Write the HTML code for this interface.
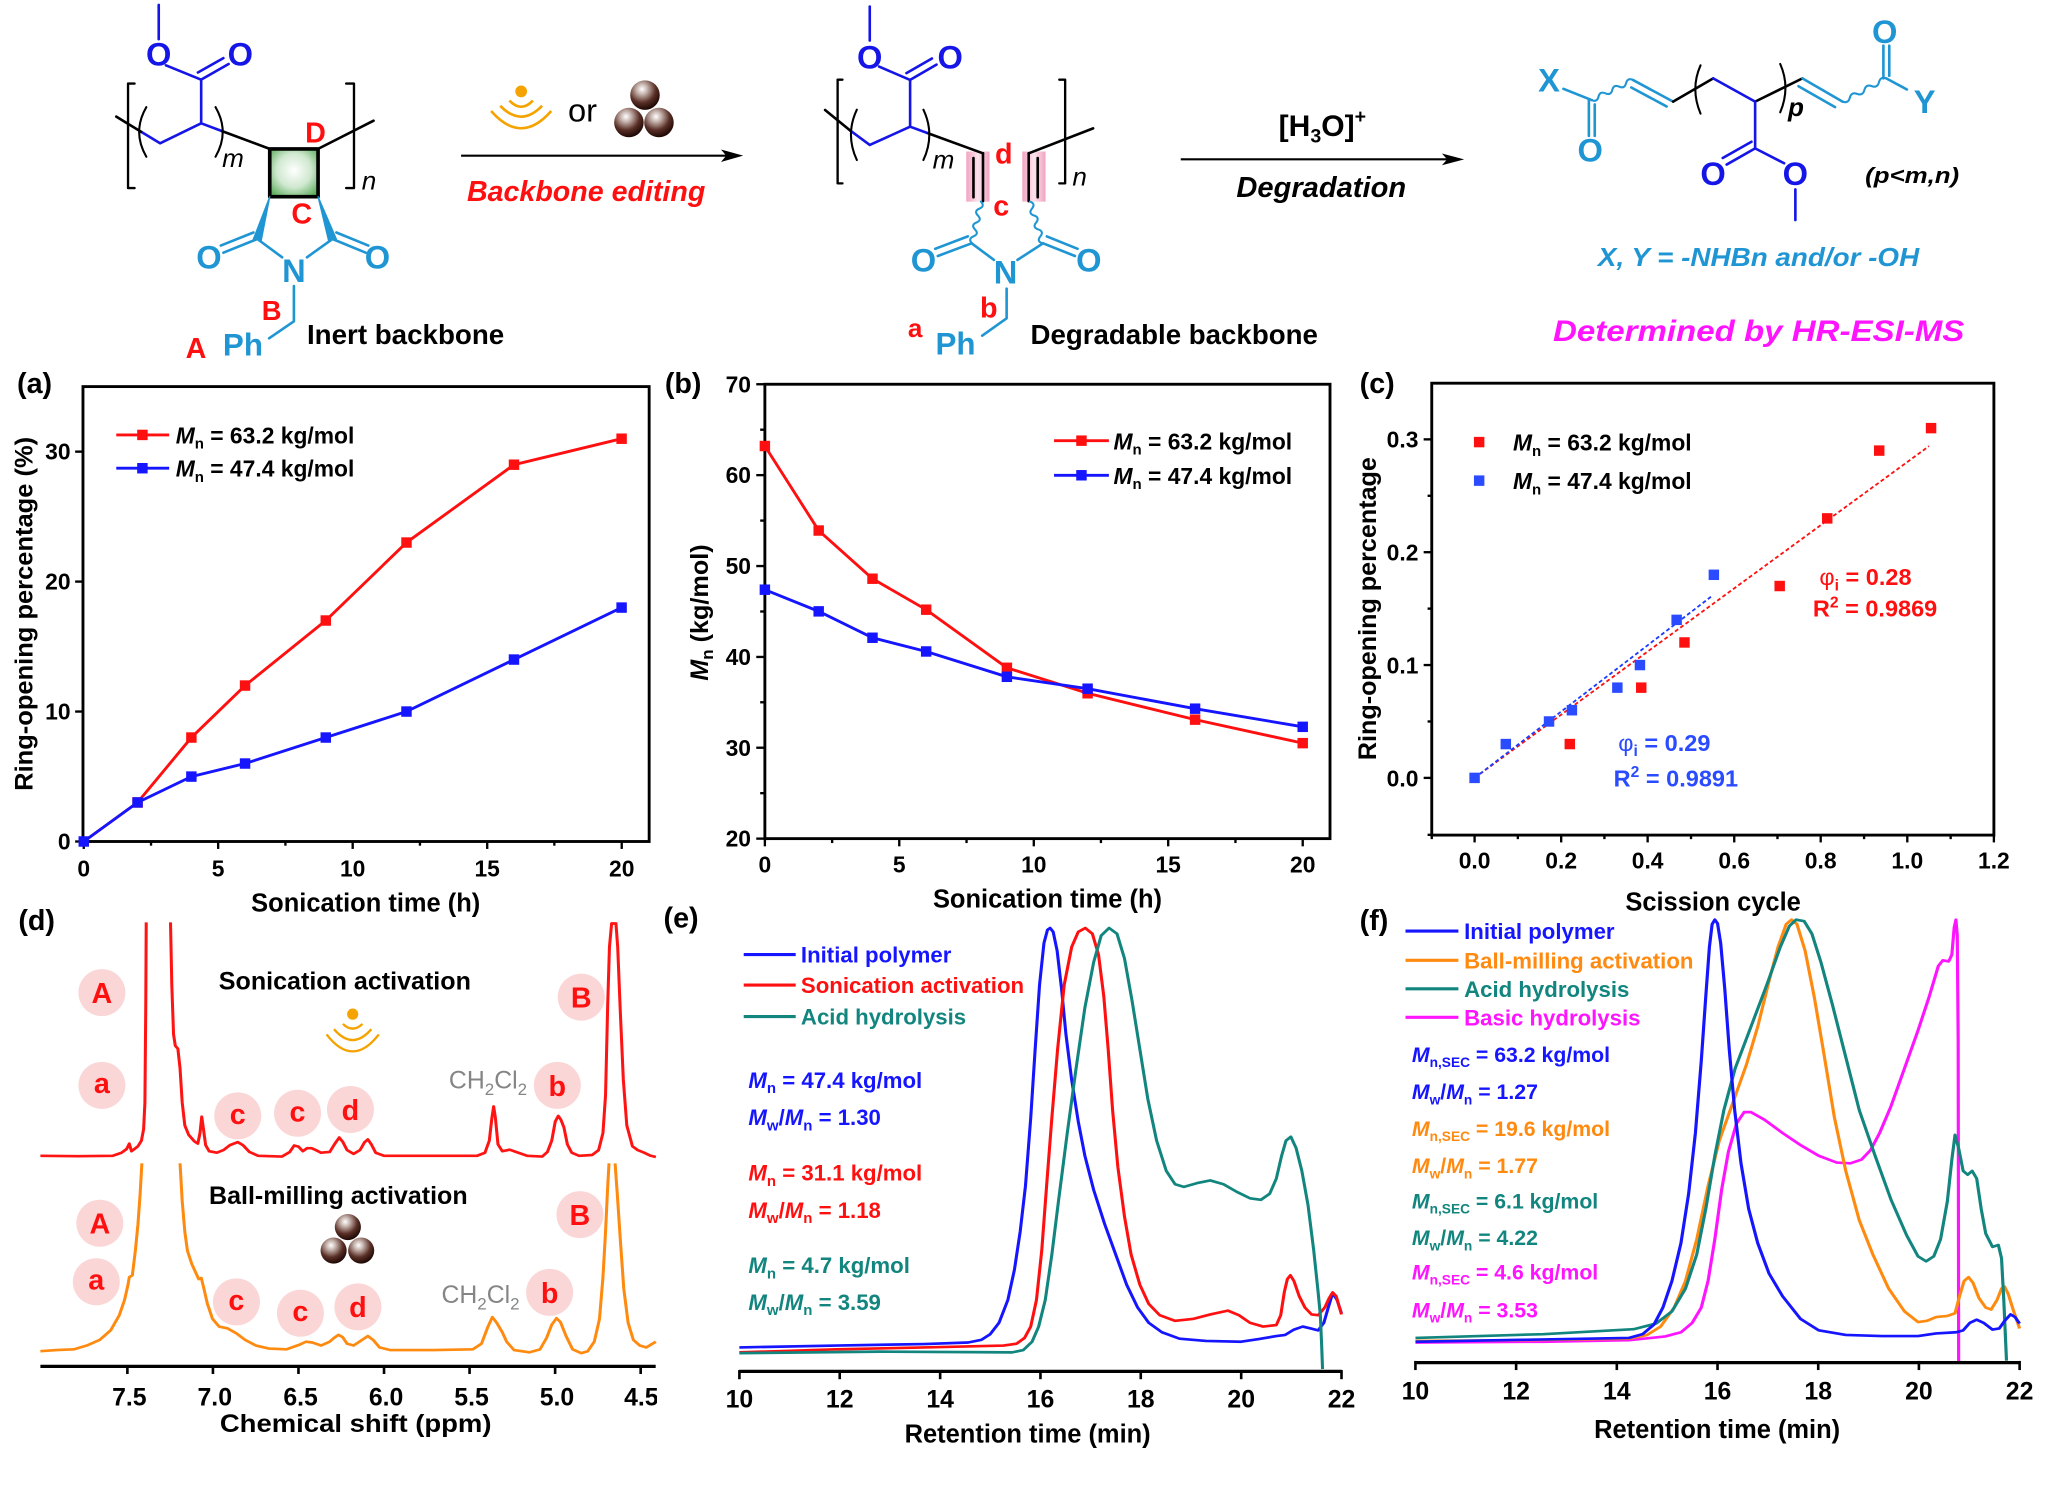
<!DOCTYPE html>
<html><head><meta charset="utf-8"><style>
html,body{margin:0;padding:0;background:#fff}
svg{display:block}
text{font-family:"Liberation Sans",Arial,sans-serif;font-weight:bold}
.nw{font-weight:normal}
</style></head><body>
<svg width="2048" height="1485" viewBox="0 0 1568 1137" xmlns="http://www.w3.org/2000/svg">
<defs>
<radialGradient id="gsq" cx="50%" cy="45%" r="65%"><stop offset="0" stop-color="#ffffff"/><stop offset="0.55" stop-color="#cfe8cf"/><stop offset="1" stop-color="#5fae5f"/></radialGradient>
<radialGradient id="gball" cx="40%" cy="30%" r="70%"><stop offset="0" stop-color="#ffffff"/><stop offset="0.25" stop-color="#c8b6b0"/><stop offset="0.65" stop-color="#5a3027"/><stop offset="1" stop-color="#1e0804"/></radialGradient>
<linearGradient id="gpink" x1="0" y1="0" x2="1" y2="0"><stop offset="0" stop-color="#f2a3c1"/><stop offset="0.5" stop-color="#fbe3ec"/><stop offset="1" stop-color="#f2a3c1"/></linearGradient>
<clipPath id="clipd"><rect x="0" y="690" width="503" height="447"/></clipPath>
</defs>
<rect x="0" y="0" width="1568" height="1137" fill="#fff"/>

<!-- ===================== TOP SCHEME ===================== -->
<g fill="none" stroke-width="2" stroke-linecap="round" stroke-linejoin="round">
 <line x1="121.5" y1="3.8" x2="121.5" y2="30" stroke="#1515e8"/>
 <line x1="127" y1="50" x2="154" y2="61" stroke="#1515e8"/>
 <line x1="154" y1="61" x2="175" y2="49" stroke="#1515e8"/>
 <line x1="151.5" y1="55.5" x2="171" y2="44.5" stroke="#1515e8"/>
 <line x1="154" y1="61" x2="154" y2="94.4" stroke="#1515e8"/>
 <polyline points="108,100.9 122.5,109.7 154,94.4 170,100.4" stroke="#1515e8"/>
 <line x1="89" y1="89.3" x2="108" y2="100.9" stroke="#000"/>
 <line x1="170" y1="100.4" x2="206.5" y2="114" stroke="#000"/>
 <path d="M112,82 Q101,101 112,120" stroke="#000" stroke-width="1.6"/>
 <path d="M165,82 Q176,101 165,120" stroke="#000" stroke-width="1.6"/>
 <path d="M103,64 H98 V144 H103" stroke="#000" stroke-width="1.8"/>
 <path d="M265,64 H271 V144 H265" stroke="#000" stroke-width="1.8"/>
 <line x1="243.5" y1="114" x2="286" y2="92.4" stroke="#000"/>
 <rect x="206.5" y="114" width="37" height="36.6" fill="url(#gsq)" stroke="#000" stroke-width="2.8"/>
 <polygon points="206.5,150.6 194,183 200,184" fill="#1f96d3" stroke="#1f96d3" stroke-width="1"/>
 <polygon points="243.5,150.6 251.5,184 257.5,183" fill="#1f96d3" stroke="#1f96d3" stroke-width="1"/>
 <line x1="197" y1="183" x2="171" y2="193.5" stroke="#1f96d3"/>
 <line x1="194" y1="178" x2="169" y2="188" stroke="#1f96d3"/>
 <line x1="254.5" y1="183" x2="280" y2="193.5" stroke="#1f96d3"/>
 <line x1="257.5" y1="178" x2="282" y2="188" stroke="#1f96d3"/>
 <line x1="197" y1="183" x2="216" y2="197" stroke="#1f96d3"/>
 <line x1="254.5" y1="183" x2="235" y2="197" stroke="#1f96d3"/>
 <polyline points="225,219 225,246 206,259" stroke="#1f96d3"/>
</g>
<g text-anchor="middle">
 <text x="121.5" y="50" font-size="25" fill="#1515e8">O</text>
 <text x="184" y="50" font-size="25" fill="#1515e8">O</text>
 <text x="241.5" y="109" font-size="22" fill="#ff1010">D</text>
 <text x="231" y="171" font-size="22" fill="#ff1010">C</text>
 <text x="160" y="205.5" font-size="25" fill="#1f96d3">O</text>
 <text x="289" y="205.5" font-size="25" fill="#1f96d3">O</text>
 <text x="225" y="216" font-size="25" fill="#1f96d3">N</text>
 <text x="186" y="272" font-size="24" fill="#1f96d3">Ph</text>
 <text x="150" y="274" font-size="22" fill="#ff1010">A</text>
 <text x="208" y="245" font-size="21" fill="#ff1010">B</text>
</g>
<text x="170" y="128" font-size="20" font-style="italic" class="nw">m</text>
<text x="277" y="145" font-size="20" font-style="italic" class="nw">n</text>
<text x="235" y="263.5" font-size="21" textLength="151" lengthAdjust="spacingAndGlyphs">Inert backbone</text>

<circle cx="399" cy="70" r="4.5" fill="#f5a300"/>
<g fill="none" stroke="#f5a300" stroke-width="2">
 <path d="M390,77 Q399,86.5 408,77"/>
 <path d="M383,81 Q399,97.6 415,81"/>
 <path d="M376,85 Q399,111.4 422,85"/>
</g>
<text x="446" y="93" font-size="25" text-anchor="middle" class="nw">or</text>
<circle cx="493.8" cy="72.8" r="11.3" fill="url(#gball)"/>
<circle cx="481.5" cy="93.8" r="11.3" fill="url(#gball)"/>
<circle cx="504.5" cy="93.8" r="11.3" fill="url(#gball)"/>
<line x1="353" y1="119.2" x2="556" y2="119.2" stroke="#000" stroke-width="1.6"/>
<polygon points="569,119.2 552,114.5 556,119.2 552,124" fill="#000"/>
<text x="357.5" y="154" font-size="22" font-style="italic" fill="#ff1010" textLength="182.5" lengthAdjust="spacingAndGlyphs">Backbone editing</text>

<rect x="739.8" y="116" width="17.8" height="38.4" fill="url(#gpink)"/>
<rect x="782.7" y="116" width="17.8" height="38.4" fill="url(#gpink)"/>
<g fill="none" stroke-width="2" stroke-linecap="round" stroke-linejoin="round">
 <line x1="665.9" y1="5" x2="665.9" y2="31" stroke="#1515e8"/>
 <line x1="673" y1="51" x2="696.8" y2="61.2" stroke="#1515e8"/>
 <line x1="696.8" y1="61.2" x2="717" y2="49.5" stroke="#1515e8"/>
 <line x1="694" y1="56" x2="713.5" y2="44.8" stroke="#1515e8"/>
 <line x1="696.8" y1="61.2" x2="696.8" y2="97" stroke="#1515e8"/>
 <polyline points="651,100 665.9,111 696.8,97 711,102.2" stroke="#1515e8"/>
 <line x1="631.7" y1="84.2" x2="651" y2="100" stroke="#000"/>
 <line x1="711" y1="102.2" x2="752.6" y2="117.4" stroke="#000"/>
 <path d="M656,84 Q647,103 656,122.5" stroke="#000" stroke-width="1.6"/>
 <path d="M707,84 Q716,103 707,122.5" stroke="#000" stroke-width="1.6"/>
 <path d="M645,61 H641.3 V140.4 H645" stroke="#000" stroke-width="1.8"/>
 <path d="M811,61 H815.5 V140.4 H811" stroke="#000" stroke-width="1.8"/>
 <line x1="745.3" y1="121" x2="745.3" y2="151" stroke="#000"/>
 <line x1="752.6" y1="117.4" x2="752.6" y2="154" stroke="#000"/>
 <line x1="787.6" y1="117.4" x2="787.6" y2="154" stroke="#000"/>
 <line x1="794.5" y1="121" x2="794.5" y2="151" stroke="#000"/>
 <line x1="787.6" y1="117.4" x2="836.9" y2="98.3" stroke="#000"/>
 <path d="M751,154.4 q3.33,3.49 -1.133,5.317 q-4.47,1.83 -1.133,5.317 q3.33,3.49 -1.133,5.317 q-4.47,1.83 -1.133,5.317 q3.33,3.49 -1.133,5.317 q-4.47,1.83 -1.133,5.317" stroke="#1f96d3" stroke-width="1.6"/>
 <path d="M788.5,154.4 q4.63,1.51 1.6,5.317 q-3.03,3.81 1.6,5.317 q4.63,1.51 1.6,5.317 q-3.03,3.81 1.6,5.317 q4.63,1.51 1.6,5.317 q-3.03,3.81 1.6,5.317" stroke="#1f96d3" stroke-width="1.6"/>
 <line x1="743.9" y1="186.3" x2="718" y2="196" stroke="#1f96d3"/>
 <line x1="741" y1="181" x2="716" y2="190.5" stroke="#1f96d3"/>
 <line x1="798.6" y1="186.3" x2="823" y2="196" stroke="#1f96d3"/>
 <line x1="801.5" y1="181" x2="825" y2="190.5" stroke="#1f96d3"/>
 <line x1="743.9" y1="186.3" x2="761" y2="199" stroke="#1f96d3"/>
 <line x1="798.6" y1="186.3" x2="779" y2="199" stroke="#1f96d3"/>
 <polyline points="770.7,221 770.7,243.7 752,257" stroke="#1f96d3"/>
</g>
<g text-anchor="middle">
 <text x="665.9" y="52.5" font-size="25" fill="#1515e8">O</text>
 <text x="727.5" y="52.5" font-size="25" fill="#1515e8">O</text>
 <text x="768.5" y="125" font-size="22" fill="#ff1010">d</text>
 <text x="766.6" y="165" font-size="22" fill="#ff1010">c</text>
 <text x="707" y="208" font-size="25" fill="#1f96d3">O</text>
 <text x="833.6" y="208" font-size="25" fill="#1f96d3">O</text>
 <text x="769.9" y="217" font-size="25" fill="#1f96d3">N</text>
 <text x="757" y="243" font-size="22" fill="#ff1010">b</text>
 <text x="700.7" y="258" font-size="20" fill="#ff1010">a</text>
 <text x="731.6" y="271.5" font-size="24" fill="#1f96d3">Ph</text>
</g>
<text x="714" y="129" font-size="20" font-style="italic" class="nw">m</text>
<text x="821" y="142" font-size="20" font-style="italic" class="nw">n</text>
<text x="789" y="263.5" font-size="21" textLength="220" lengthAdjust="spacingAndGlyphs">Degradable backbone</text>

<line x1="904" y1="122" x2="1108" y2="122" stroke="#000" stroke-width="1.6"/>
<polygon points="1121,122 1104,117.5 1108,122 1104,126.5" fill="#000"/>
<text x="979" y="104" font-size="23">[H<tspan font-size="15" dy="5">3</tspan><tspan dy="-5">O]</tspan><tspan font-size="15" dy="-10">+</tspan></text>
<text x="946.6" y="151" font-size="22" font-style="italic" textLength="130" lengthAdjust="spacingAndGlyphs">Degradation</text>

<g fill="none" stroke-width="2" stroke-linecap="round" stroke-linejoin="round">
 <line x1="1197" y1="68" x2="1218.6" y2="76.6" stroke="#1f96d3"/>
 <line x1="1216.5" y1="77" x2="1216.5" y2="104" stroke="#1f96d3"/>
 <line x1="1221" y1="80" x2="1221" y2="104" stroke="#1f96d3"/>
 <path d="M1218.6,76.6 q4.16,1.87 5.27,-2.57 q1.1,-4.43 5.27,-2.57 q4.16,1.87 5.27,-2.57 q1.1,-4.43 5.27,-2.57 q4.16,1.87 5.27,-2.57 q1.1,-4.43 5.27,-2.57" stroke="#1f96d3" stroke-width="1.6"/>
 <line x1="1250.2" y1="61.2" x2="1281" y2="77.8" stroke="#1f96d3"/>
 <line x1="1249" y1="67" x2="1276" y2="81.5" stroke="#1f96d3"/>
 <line x1="1281" y1="77.8" x2="1311.7" y2="60" stroke="#000"/>
 <line x1="1311.7" y1="60" x2="1343.8" y2="77.8" stroke="#1515e8"/>
 <line x1="1343.8" y1="77.8" x2="1380" y2="60" stroke="#000"/>
 <path d="M1302,50 Q1294,68 1302,87" stroke="#000" stroke-width="1.6"/>
 <path d="M1363,49 Q1371,67 1363,86" stroke="#000" stroke-width="1.6"/>
 <line x1="1380" y1="60" x2="1410.7" y2="77.8" stroke="#1f96d3"/>
 <line x1="1377" y1="66" x2="1405" y2="82" stroke="#1f96d3"/>
 <path d="M1410.7,77.8 q4.44,1.61 5.58,-2.97 q1.14,-4.57 5.58,-2.97 q4.44,1.61 5.58,-2.97 q1.14,-4.57 5.58,-2.97 q4.44,1.61 5.58,-2.97 q1.14,-4.57 5.58,-2.97" stroke="#1f96d3" stroke-width="1.6"/>
 <line x1="1442" y1="60" x2="1442" y2="35" stroke="#1f96d3"/>
 <line x1="1446.5" y1="58" x2="1446.5" y2="35" stroke="#1f96d3"/>
 <line x1="1444.2" y1="60" x2="1460" y2="68.5" stroke="#1f96d3"/>
 <line x1="1343.8" y1="77.8" x2="1343.8" y2="113.6" stroke="#1515e8"/>
 <line x1="1343.8" y1="113.6" x2="1322" y2="126" stroke="#1515e8"/>
 <line x1="1341" y1="108.5" x2="1319" y2="121" stroke="#1515e8"/>
 <line x1="1343.8" y1="113.6" x2="1366" y2="125" stroke="#1515e8"/>
 <line x1="1374.6" y1="145" x2="1374.6" y2="168.4" stroke="#1515e8"/>
</g>
<g text-anchor="middle">
 <text x="1186" y="70" font-size="25" fill="#1f96d3">X</text>
 <text x="1217.5" y="123.5" font-size="25" fill="#1f96d3">O</text>
 <text x="1443" y="33" font-size="25" fill="#1f96d3">O</text>
 <text x="1473.6" y="86.5" font-size="25" fill="#1f96d3">Y</text>
 <text x="1311.6" y="141.5" font-size="25" fill="#1515e8">O</text>
 <text x="1374.6" y="141.5" font-size="25" fill="#1515e8">O</text>
</g>
<text x="1369" y="89" font-size="20" font-style="italic">p</text>
<text x="1428" y="140" font-size="17" font-style="italic" textLength="72" lengthAdjust="spacingAndGlyphs">(p&lt;m,n)</text>
<text x="1223.4" y="203.5" font-size="20" font-style="italic" fill="#1f96d3" textLength="246" lengthAdjust="spacingAndGlyphs">X, Y = -NHBn and/or -OH</text>
<text x="1189" y="261" font-size="23" font-style="italic" fill="#ff14ff" textLength="315" lengthAdjust="spacingAndGlyphs">Determined by HR-ESI-MS</text>

<!-- ===================== PANEL A ===================== -->
<text x="13" y="301" font-size="22">(a)</text>
<rect x="63.5" y="296" width="433.5" height="348.3" fill="none" stroke="#000" stroke-width="2.2"/>
<g stroke="#000" stroke-width="1.8">
 <line x1="64.1" y1="644" x2="64.1" y2="650"/><line x1="167" y1="644" x2="167" y2="650"/><line x1="270" y1="644" x2="270" y2="650"/><line x1="373" y1="644" x2="373" y2="650"/><line x1="476" y1="644" x2="476" y2="650"/>
 <line x1="115.6" y1="644" x2="115.6" y2="647.5"/><line x1="218.5" y1="644" x2="218.5" y2="647.5"/><line x1="321.5" y1="644" x2="321.5" y2="647.5"/><line x1="424.4" y1="644" x2="424.4" y2="647.5"/>
 <line x1="57.5" y1="644.3" x2="63.5" y2="644.3"/><line x1="57.5" y1="544.8" x2="63.5" y2="544.8"/><line x1="57.5" y1="445.3" x2="63.5" y2="445.3"/><line x1="57.5" y1="345.8" x2="63.5" y2="345.8"/>
</g>
<g font-size="17.5" text-anchor="middle">
 <text x="64.1" y="671">0</text><text x="167" y="671">5</text><text x="270" y="671">10</text><text x="373" y="671">15</text><text x="476" y="671">20</text>
</g>
<g font-size="17.5" text-anchor="end">
 <text x="54" y="650.5">0</text><text x="54" y="551">10</text><text x="54" y="451.5">20</text><text x="54" y="352">30</text>
</g>
<text x="280" y="698" font-size="19.5" text-anchor="middle">Sonication time (h)</text>
<text transform="translate(25,470) rotate(-90)" font-size="19.3" text-anchor="middle" textLength="271" lengthAdjust="spacingAndGlyphs">Ring-opening percentage (%)</text>
<polyline points="64.1,644.3 105.3,614.4 146.5,564.7 187.6,524.9 249.4,475.1 311.2,415.4 393.5,355.8 475.9,335.9" fill="none" stroke="#ff1010" stroke-width="2.2"/>
<g fill="#ff1010"><rect x="101.3" y="610.4" width="8" height="8"/><rect x="142.5" y="560.7" width="8" height="8"/><rect x="183.6" y="520.9" width="8" height="8"/><rect x="245.4" y="471.1" width="8" height="8"/><rect x="307.2" y="411.4" width="8" height="8"/><rect x="389.5" y="351.8" width="8" height="8"/><rect x="471.9" y="331.9" width="8" height="8"/></g>
<polyline points="64.1,644.3 105.3,614.4 146.5,594.6 187.6,584.6 249.4,564.7 311.2,544.8 393.5,505 475.9,465.2" fill="none" stroke="#1515ff" stroke-width="2.2"/>
<g fill="#1515ff"><rect x="60.1" y="640.3" width="8" height="8"/><rect x="101.3" y="610.4" width="8" height="8"/><rect x="142.5" y="590.6" width="8" height="8"/><rect x="183.6" y="580.6" width="8" height="8"/><rect x="245.4" y="560.7" width="8" height="8"/><rect x="307.2" y="540.8" width="8" height="8"/><rect x="389.5" y="501" width="8" height="8"/><rect x="471.9" y="461.2" width="8" height="8"/></g>
<line x1="89" y1="333" x2="129.5" y2="333" stroke="#ff1010" stroke-width="2.2"/><rect x="105" y="329" width="8" height="8" fill="#ff1010"/>
<line x1="89" y1="358.5" x2="129.5" y2="358.5" stroke="#1515ff" stroke-width="2.2"/><rect x="105" y="354.5" width="8" height="8" fill="#1515ff"/>
<text x="134.5" y="339.5" font-size="17.5"><tspan font-style="italic">M</tspan><tspan font-size="11.5" dy="4">n</tspan><tspan dy="-4"> = 63.2 kg/mol</tspan></text>
<text x="134.5" y="365" font-size="17.5"><tspan font-style="italic">M</tspan><tspan font-size="11.5" dy="4">n</tspan><tspan dy="-4"> = 47.4 kg/mol</tspan></text>

<!-- ===================== PANEL B ===================== -->
<text x="509" y="301" font-size="22">(b)</text>
<rect x="585.6" y="294.2" width="432.7" height="347.9" fill="none" stroke="#000" stroke-width="2.2"/>
<g stroke="#000" stroke-width="1.8">
 <line x1="585.6" y1="642" x2="585.6" y2="648"/><line x1="688.5" y1="642" x2="688.5" y2="648"/><line x1="791.5" y1="642" x2="791.5" y2="648"/><line x1="894.4" y1="642" x2="894.4" y2="648"/><line x1="997.4" y1="642" x2="997.4" y2="648"/>
 <line x1="637.1" y1="642" x2="637.1" y2="645.5"/><line x1="740" y1="642" x2="740" y2="645.5"/><line x1="842.9" y1="642" x2="842.9" y2="645.5"/><line x1="945.9" y1="642" x2="945.9" y2="645.5"/>
 <line x1="579" y1="642.1" x2="585.6" y2="642.1"/><line x1="579" y1="572.5" x2="585.6" y2="572.5"/><line x1="579" y1="503" x2="585.6" y2="503"/><line x1="579" y1="433.4" x2="585.6" y2="433.4"/><line x1="579" y1="363.8" x2="585.6" y2="363.8"/><line x1="579" y1="294.2" x2="585.6" y2="294.2"/>
 <line x1="582" y1="607.3" x2="585.6" y2="607.3"/><line x1="582" y1="537.7" x2="585.6" y2="537.7"/><line x1="582" y1="468.2" x2="585.6" y2="468.2"/><line x1="582" y1="398.6" x2="585.6" y2="398.6"/><line x1="582" y1="329" x2="585.6" y2="329"/>
</g>
<g font-size="17.5" text-anchor="middle">
 <text x="585.6" y="668">0</text><text x="688.5" y="668">5</text><text x="791.5" y="668">10</text><text x="894.4" y="668">15</text><text x="997.4" y="668">20</text>
</g>
<g font-size="17.5" text-anchor="end">
 <text x="575" y="648.3">20</text><text x="575" y="578.7">30</text><text x="575" y="509.2">40</text><text x="575" y="439.6">50</text><text x="575" y="370">60</text><text x="575" y="300.4">70</text>
</g>
<text x="802" y="695" font-size="19.5" text-anchor="middle">Sonication time (h)</text>
<text transform="translate(542,469) rotate(-90)" font-size="19.3" text-anchor="middle"><tspan font-style="italic">M</tspan><tspan font-size="13" dy="4">n</tspan><tspan dy="-4"> (kg/mol)</tspan></text>
<polyline points="585.6,341.5 626.8,406.2 668,443.1 709.1,466.8 770.9,511.3 832.7,530.8 915,551 997.4,569" fill="none" stroke="#ff1010" stroke-width="2.2"/>
<g fill="#ff1010"><rect x="581.6" y="337.5" width="8" height="8"/><rect x="622.8" y="402.2" width="8" height="8"/><rect x="664" y="439.1" width="8" height="8"/><rect x="705.1" y="462.8" width="8" height="8"/><rect x="766.9" y="507.3" width="8" height="8"/><rect x="828.7" y="526.8" width="8" height="8"/><rect x="911" y="547" width="8" height="8"/><rect x="993.4" y="565" width="8" height="8"/></g>
<polyline points="585.6,451.5 626.8,468.1 668,488.3 709.1,498.8 770.9,518.2 832.7,527.3 915,542.6 997.4,556.5" fill="none" stroke="#1515ff" stroke-width="2.2"/>
<g fill="#1515ff"><rect x="581.6" y="447.5" width="8" height="8"/><rect x="622.8" y="464.1" width="8" height="8"/><rect x="664" y="484.3" width="8" height="8"/><rect x="705.1" y="494.8" width="8" height="8"/><rect x="766.9" y="514.2" width="8" height="8"/><rect x="828.7" y="523.3" width="8" height="8"/><rect x="911" y="538.6" width="8" height="8"/><rect x="993.4" y="552.5" width="8" height="8"/></g>
<line x1="807" y1="337.4" x2="849" y2="337.4" stroke="#ff1010" stroke-width="2.2"/><rect x="824" y="333.4" width="8" height="8" fill="#ff1010"/>
<line x1="807" y1="363.9" x2="849" y2="363.9" stroke="#1515ff" stroke-width="2.2"/><rect x="824" y="359.9" width="8" height="8" fill="#1515ff"/>
<text x="852.5" y="344" font-size="17.5"><tspan font-style="italic">M</tspan><tspan font-size="11.5" dy="4">n</tspan><tspan dy="-4"> = 63.2 kg/mol</tspan></text>
<text x="852.5" y="370.5" font-size="17.5"><tspan font-style="italic">M</tspan><tspan font-size="11.5" dy="4">n</tspan><tspan dy="-4"> = 47.4 kg/mol</tspan></text>

<!-- ===================== PANEL C ===================== -->
<text x="1041" y="301" font-size="22">(c)</text>
<rect x="1096.2" y="293.4" width="430.4" height="346" fill="none" stroke="#000" stroke-width="2.2"/>
<g stroke="#000" stroke-width="1.8">
 <line x1="1129" y1="639" x2="1129" y2="645"/><line x1="1195.3" y1="639" x2="1195.3" y2="645"/><line x1="1261.5" y1="639" x2="1261.5" y2="645"/><line x1="1327.8" y1="639" x2="1327.8" y2="645"/><line x1="1394" y1="639" x2="1394" y2="645"/><line x1="1460.3" y1="639" x2="1460.3" y2="645"/><line x1="1526.6" y1="639" x2="1526.6" y2="645"/>
 <line x1="1096.2" y1="639" x2="1096.2" y2="642.5"/><line x1="1162.1" y1="639" x2="1162.1" y2="642.5"/><line x1="1228.4" y1="639" x2="1228.4" y2="642.5"/><line x1="1294.7" y1="639" x2="1294.7" y2="642.5"/><line x1="1360.9" y1="639" x2="1360.9" y2="642.5"/><line x1="1427.2" y1="639" x2="1427.2" y2="642.5"/><line x1="1493.5" y1="639" x2="1493.5" y2="642.5"/>
 <line x1="1090" y1="595.6" x2="1096.2" y2="595.6"/><line x1="1090" y1="509.2" x2="1096.2" y2="509.2"/><line x1="1090" y1="422.8" x2="1096.2" y2="422.8"/><line x1="1090" y1="336.4" x2="1096.2" y2="336.4"/>
 <line x1="1093" y1="552.4" x2="1096.2" y2="552.4"/><line x1="1093" y1="466" x2="1096.2" y2="466"/><line x1="1093" y1="379.6" x2="1096.2" y2="379.6"/><line x1="1093" y1="639.2" x2="1096.2" y2="639.2"/>
</g>
<g font-size="17.5" text-anchor="middle">
 <text x="1129" y="665">0.0</text><text x="1195.3" y="665">0.2</text><text x="1261.5" y="665">0.4</text><text x="1327.8" y="665">0.6</text><text x="1394" y="665">0.8</text><text x="1460.3" y="665">1.0</text><text x="1526.6" y="665">1.2</text>
</g>
<g font-size="17.5" text-anchor="end">
 <text x="1086" y="602">0.0</text><text x="1086" y="515.6">0.1</text><text x="1086" y="429.2">0.2</text><text x="1086" y="342.8">0.3</text>
</g>
<text x="1311.6" y="697" font-size="19.5" text-anchor="middle">Scission cycle</text>
<text transform="translate(1053.5,466) rotate(-90)" font-size="19.3" text-anchor="middle" textLength="232" lengthAdjust="spacingAndGlyphs">Ring-opening percentage</text>
<line x1="1129" y1="595.6" x2="1476.9" y2="341.6" stroke="#ff1010" stroke-width="1.4" stroke-dasharray="3,2"/>
<line x1="1129" y1="595.6" x2="1310.5" y2="456.5" stroke="#1a3cff" stroke-width="1.4" stroke-dasharray="3,2"/>
<g fill="#ff1010"><rect x="1197.9" y="565.7" width="8" height="8"/><rect x="1252.6" y="522.5" width="8" height="8"/><rect x="1285.7" y="487.9" width="8" height="8"/><rect x="1358.6" y="444.7" width="8" height="8"/><rect x="1395" y="392.9" width="8" height="8"/><rect x="1434.8" y="341" width="8" height="8"/><rect x="1474.5" y="323.8" width="8" height="8"/></g>
<g fill="#2a4bff"><rect x="1125" y="591.6" width="8" height="8"/><rect x="1148.9" y="565.7" width="8" height="8"/><rect x="1182" y="548.4" width="8" height="8"/><rect x="1199.5" y="539.8" width="8" height="8"/><rect x="1234.3" y="522.5" width="8" height="8"/><rect x="1251.6" y="505.2" width="8" height="8"/><rect x="1279.7" y="470.6" width="8" height="8"/><rect x="1308.2" y="436.1" width="8" height="8"/></g>
<rect x="1128.5" y="334.5" width="8" height="8" fill="#ff1010"/>
<rect x="1128.5" y="364" width="8" height="8" fill="#2a4bff"/>
<text x="1158.4" y="345" font-size="17.5"><tspan font-style="italic">M</tspan><tspan font-size="11.5" dy="4">n</tspan><tspan dy="-4"> = 63.2 kg/mol</tspan></text>
<text x="1158.4" y="374.5" font-size="17.5"><tspan font-style="italic">M</tspan><tspan font-size="11.5" dy="4">n</tspan><tspan dy="-4"> = 47.4 kg/mol</tspan></text>
<text x="1393" y="448" font-size="18" fill="#ff1010"><tspan class="nw">φ</tspan><tspan font-size="12" dy="4">i</tspan><tspan dy="-4"> = 0.28</tspan></text>
<text x="1388" y="472" font-size="18" fill="#ff1010">R<tspan font-size="12" dy="-7">2</tspan><tspan dy="7"> = 0.9869</tspan></text>
<text x="1239" y="575" font-size="18" fill="#2a4bff"><tspan class="nw">φ</tspan><tspan font-size="12" dy="4">i</tspan><tspan dy="-4"> = 0.29</tspan></text>
<text x="1235.5" y="602" font-size="18" fill="#2a4bff">R<tspan font-size="12" dy="-7">2</tspan><tspan dy="7"> = 0.9891</tspan></text>

<!-- ===================== PANEL D ===================== -->
<text x="14" y="712" font-size="22">(d)</text>
<g fill="#fbd6d6">
 <circle cx="78" cy="760" r="18"/><circle cx="78" cy="831" r="18"/><circle cx="182" cy="854.4" r="18"/><circle cx="227.8" cy="852.4" r="18"/><circle cx="268.3" cy="849.5" r="18"/><circle cx="426.7" cy="831" r="18"/><circle cx="445" cy="763.5" r="18"/>
 <circle cx="76.4" cy="936.6" r="18"/><circle cx="73.7" cy="981.4" r="18"/><circle cx="181" cy="996.8" r="18"/><circle cx="230" cy="1005.5" r="18"/><circle cx="274" cy="1000.6" r="18"/><circle cx="420.8" cy="989.5" r="18"/><circle cx="444" cy="930" r="18"/>
</g>
<g clip-path="url(#clipd)">
<g transform="translate(0,681.5) scale(0.3321,0.2906)" fill="none" stroke-linejoin="round" stroke-width="7">
<path stroke="#ff1414" d="M93,700 L180,701 L260,700 L280,692 L292,682 L298,668 L303,688 L310,682 L318,675 L326,660 L331,630 L334,560 L336,300 L337,85 M393,85 L396,250 L400,380 L404,410 L410,418 L415,470 L420,560 L426,620 L435,645 L448,662 L456,668 L461,640 L465,597 L469,630 L474,672 L482,688 L500,692 L515,685 L530,672 L548,664 L560,672 L575,690 L595,700 L650,702 L668,690 L678,673 L688,676 L698,688 L708,680 L718,680 L728,685 L740,692 L760,690 L772,668 L782,652 L790,663 L800,685 L815,695 L830,685 L840,665 L848,657 L856,670 L866,692 L885,700 L1000,700 L1100,700 L1118,692 L1128,660 L1134,600 L1138,570 L1142,600 L1148,670 L1158,688 L1175,684 L1190,690 L1215,700 L1250,702 L1262,690 L1272,660 L1280,610 L1287,595 L1293,605 L1300,625 L1308,670 L1318,692 L1335,700 L1365,698 L1380,685 L1390,640 L1396,540 L1401,300 L1405,150 L1410,88 L1420,88 L1424,150 L1430,320 L1437,500 L1445,620 L1458,675 L1470,685 L1485,692 L1500,700 L1512,703"/>
<path stroke="#ff8a10" d="M93,1215 L130,1212 L170,1210 L200,1200 L230,1185 L255,1160 L275,1120 L287,1080 L295,1040 L298,1020 L305,1015 L312,950 L318,880 L323,800 L327,720 M415,720 L420,820 L426,900 L432,950 L442,985 L452,1010 L458,1025 L464,1022 L470,1050 L478,1090 L490,1130 L505,1150 L525,1155 L545,1168 L565,1185 L590,1200 L620,1208 L660,1210 L690,1198 L705,1190 L720,1192 L740,1200 L760,1190 L770,1180 L780,1172 L790,1178 L800,1195 L815,1200 L835,1185 L848,1175 L860,1185 L875,1205 L900,1212 L1000,1212 L1090,1210 L1110,1195 L1125,1150 L1135,1125 L1145,1140 L1158,1165 L1168,1190 L1185,1212 L1220,1218 L1245,1210 L1260,1180 L1272,1145 L1283,1128 L1292,1138 L1305,1175 L1320,1210 L1340,1220 L1355,1215 L1370,1190 L1382,1130 L1390,1020 L1396,900 L1401,780 L1404,720 M1418,720 L1423,800 L1430,920 L1438,1050 L1448,1140 L1460,1185 L1475,1200 L1490,1205 L1500,1198 L1512,1190"/>
</g>
<line x1="30.9" y1="1046.2" x2="502" y2="1046.2" stroke="#000" stroke-width="2.5"/>
<g stroke="#000" stroke-width="2">
 <line x1="97.5" y1="1046" x2="97.5" y2="1052"/><line x1="163" y1="1046" x2="163" y2="1052"/><line x1="228.5" y1="1046" x2="228.5" y2="1052"/><line x1="294" y1="1046" x2="294" y2="1052"/><line x1="359.5" y1="1046" x2="359.5" y2="1052"/><line x1="425" y1="1046" x2="425" y2="1052"/><line x1="490.5" y1="1046" x2="490.5" y2="1052"/>
</g>
<g font-size="19" text-anchor="middle">
 <text x="99" y="1076">7.5</text><text x="164.4" y="1076">7.0</text><text x="230.1" y="1076">6.5</text><text x="295.6" y="1076">6.0</text><text x="361" y="1076">5.5</text><text x="426.4" y="1076">5.0</text><text x="491" y="1076">4.5</text>
</g>
</g>
<text x="272.3" y="1096.5" font-size="19" text-anchor="middle" textLength="208" lengthAdjust="spacingAndGlyphs">Chemical shift (ppm)</text>
<g font-size="22" fill="#ff1010" text-anchor="middle">
 <text x="78" y="768">A</text><text x="78" y="837">a</text><text x="182" y="860.5">c</text><text x="227.8" y="858.5">c</text><text x="268.3" y="857.5">d</text><text x="426.7" y="839">b</text><text x="445" y="771.5">B</text>
 <text x="76.4" y="944.5">A</text><text x="73.7" y="987.5">a</text><text x="181" y="1003">c</text><text x="230" y="1011.5">c</text><text x="274" y="1008.5">d</text><text x="420.8" y="997.5">b</text><text x="444" y="938">B</text>
</g>
<text x="343.7" y="833.5" font-size="19" fill="#858585" class="nw">CH<tspan font-size="13" dy="5">2</tspan><tspan dy="-5">Cl</tspan><tspan font-size="13" dy="5">2</tspan></text>
<text x="338" y="997.5" font-size="19" fill="#858585" class="nw">CH<tspan font-size="13" dy="5">2</tspan><tspan dy="-5">Cl</tspan><tspan font-size="13" dy="5">2</tspan></text>
<text x="264" y="757.5" font-size="19" text-anchor="middle" textLength="193" lengthAdjust="spacingAndGlyphs">Sonication activation</text>
<text x="259" y="922" font-size="19" text-anchor="middle" textLength="198" lengthAdjust="spacingAndGlyphs">Ball-milling activation</text>
<circle cx="270" cy="776.5" r="4.3" fill="#f5a300"/>
<g fill="none" stroke="#f5a300" stroke-width="1.8">
 <path d="M262.5,784 Q270,791.2 277.5,784"/>
 <path d="M255.7,788 Q270,804.6 284.3,788"/>
 <path d="M250,792 Q270,818 290,792"/>
</g>
<circle cx="266.3" cy="939.5" r="10" fill="url(#gball)"/>
<circle cx="255.4" cy="957.5" r="10" fill="url(#gball)"/>
<circle cx="276.5" cy="957.5" r="10" fill="url(#gball)"/>

<!-- ===================== PANEL E ===================== -->
<text x="508" y="710" font-size="22">(e)</text>
<g transform="translate(505.4,681.5) scale(0.3370,0.2906)" fill="none" stroke-linejoin="round" stroke-width="7">
<path stroke="#1515ff" d="M180,1205 L400,1200 L600,1196 L700,1192 L730,1185 L750,1170 L770,1140 L790,1080 L805,1000 L818,900 L830,780 L842,600 L852,420 L862,250 L872,140 L880,105 L886,100 L893,110 L902,160 L912,260 L922,380 L935,500 L950,610 L965,700 L985,790 L1010,880 L1035,960 L1060,1040 L1085,1100 L1110,1140 L1140,1165 L1180,1182 L1240,1188 L1320,1190 L1360,1183 L1400,1175 L1420,1172 L1440,1158 L1460,1150 L1478,1155 L1495,1160 L1508,1140 L1518,1100 L1528,1062 L1538,1080 L1548,1115"/>
<path stroke="#ff1010" d="M180,1218 L400,1210 L600,1205 L780,1200 L810,1195 L828,1180 L842,1150 L855,1080 L867,950 L878,780 L890,600 L903,420 L918,250 L935,150 L950,110 L966,100 L982,115 L996,170 L1008,280 L1018,420 L1028,580 L1040,730 L1055,860 L1070,960 L1090,1040 L1110,1090 L1135,1120 L1170,1135 L1210,1130 L1250,1118 L1290,1108 L1315,1120 L1340,1140 L1370,1150 L1400,1146 L1410,1120 L1418,1060 L1425,1025 L1432,1015 L1440,1030 L1452,1070 L1465,1100 L1480,1118 L1495,1120 L1510,1100 L1520,1075 L1528,1060 L1536,1070 L1548,1118"/>
<path stroke="#12857f" d="M180,1220 L500,1216 L800,1218 L825,1212 L845,1190 L860,1150 L875,1080 L890,960 L905,820 L925,640 L945,470 L965,310 L985,190 L1002,120 L1020,100 L1038,115 L1055,180 L1072,290 L1090,420 L1108,550 L1128,660 L1150,740 L1170,775 L1190,782 L1220,772 L1250,765 L1280,775 L1310,795 L1340,812 L1365,816 L1385,800 L1400,760 L1412,700 L1422,660 L1433,650 L1445,680 L1458,740 L1472,830 L1485,950 L1495,1060 L1500,1120 L1503,1200 L1505,1262"/>
</g>
<line x1="566" y1="1050" x2="1027.5" y2="1050" stroke="#000" stroke-width="2.5"/>
<g stroke="#000" stroke-width="2">
 <line x1="566.1" y1="1049" x2="566.1" y2="1056"/><line x1="642.9" y1="1049" x2="642.9" y2="1056"/><line x1="719.8" y1="1049" x2="719.8" y2="1056"/><line x1="796.6" y1="1049" x2="796.6" y2="1056"/><line x1="873.4" y1="1049" x2="873.4" y2="1056"/><line x1="950.3" y1="1049" x2="950.3" y2="1056"/><line x1="1027.1" y1="1049" x2="1027.1" y2="1056"/>
</g>
<g font-size="19" text-anchor="middle">
 <text x="566.1" y="1077.5">10</text><text x="642.9" y="1077.5">12</text><text x="719.8" y="1077.5">14</text><text x="796.6" y="1077.5">16</text><text x="873.4" y="1077.5">18</text><text x="950.3" y="1077.5">20</text><text x="1027.1" y="1077.5">22</text>
</g>
<text x="786.8" y="1104.5" font-size="19.5" text-anchor="middle">Retention time (min)</text>
<line x1="569.4" y1="730.9" x2="609.2" y2="730.9" stroke="#1515ff" stroke-width="2.4"/>
<line x1="569.4" y1="754.2" x2="609.2" y2="754.2" stroke="#ff1010" stroke-width="2.4"/>
<line x1="569.4" y1="778.3" x2="609.2" y2="778.3" stroke="#12857f" stroke-width="2.4"/>
<text x="613.2" y="737" font-size="17" fill="#1515ff">Initial polymer</text>
<text x="613.2" y="760.3" font-size="17" fill="#ff1010">Sonication activation</text>
<text x="613.2" y="784.4" font-size="17" fill="#12857f">Acid hydrolysis</text>
<g font-size="17">
<text x="573" y="833" fill="#1515ff"><tspan font-style="italic">M</tspan><tspan font-size="11.5" dy="4">n</tspan><tspan dy="-4"> = 47.4 kg/mol</tspan></text>
<text x="573" y="861.5" fill="#1515ff"><tspan font-style="italic">M</tspan><tspan font-size="11.5" dy="4">w</tspan><tspan dy="-4">/</tspan><tspan font-style="italic">M</tspan><tspan font-size="11.5" dy="4">n</tspan><tspan dy="-4"> = 1.30</tspan></text>
<text x="573" y="904" fill="#ff1010"><tspan font-style="italic">M</tspan><tspan font-size="11.5" dy="4">n</tspan><tspan dy="-4"> = 31.1 kg/mol</tspan></text>
<text x="573" y="932.5" fill="#ff1010"><tspan font-style="italic">M</tspan><tspan font-size="11.5" dy="4">w</tspan><tspan dy="-4">/</tspan><tspan font-style="italic">M</tspan><tspan font-size="11.5" dy="4">n</tspan><tspan dy="-4"> = 1.18</tspan></text>
<text x="573" y="974.8" fill="#12857f"><tspan font-style="italic">M</tspan><tspan font-size="11.5" dy="4">n</tspan><tspan dy="-4"> = 4.7 kg/mol</tspan></text>
<text x="573" y="1003" fill="#12857f"><tspan font-style="italic">M</tspan><tspan font-size="11.5" dy="4">w</tspan><tspan dy="-4">/</tspan><tspan font-style="italic">M</tspan><tspan font-size="11.5" dy="4">n</tspan><tspan dy="-4"> = 3.59</tspan></text>
</g>

<!-- ===================== PANEL F ===================== -->
<text x="1041" y="712" font-size="22">(f)</text>
<g transform="translate(1026,681.5) scale(0.3457,0.2906)" fill="none" stroke-linejoin="round" stroke-width="7">
<path stroke="#ff14ff" d="M167,1192 L450,1190 L640,1186 L720,1176 L755,1165 L780,1140 L800,1100 L815,1030 L830,920 L845,790 L860,690 L878,615 L895,585 L910,585 L940,605 L980,640 L1020,672 L1060,700 L1100,718 L1130,720 L1155,710 L1175,685 L1195,640 L1220,570 L1250,470 L1280,370 L1305,280 L1325,200 L1335,185 L1348,188 L1355,170 L1360,100 L1364,78 L1367,120 L1369,400 L1370,1245"/>
<path stroke="#ff8a10" d="M167,1188 L400,1186 L640,1182 L680,1172 L710,1150 L740,1100 L765,1030 L790,920 L815,780 L840,660 L870,560 L900,460 L925,360 L950,240 L970,150 L988,90 L1000,78 L1012,90 L1030,160 L1050,280 L1070,420 L1095,600 L1120,740 L1150,870 L1180,960 L1215,1050 L1250,1110 L1280,1138 L1300,1135 L1320,1125 L1345,1122 L1362,1115 L1372,1070 L1382,1030 L1392,1020 L1402,1035 L1415,1075 L1430,1100 L1442,1105 L1455,1080 L1465,1050 L1472,1045 L1480,1065 L1492,1110 L1505,1155"/>
<path stroke="#12857f" d="M167,1180 L450,1170 L650,1157 L700,1142 L735,1110 L765,1050 L790,960 L810,840 L830,700 L850,580 L875,470 L910,360 L945,250 L975,150 L995,95 L1010,78 L1028,82 L1045,115 L1065,190 L1090,300 L1120,440 L1150,580 L1185,700 L1220,815 L1255,910 L1280,965 L1298,978 L1315,965 L1330,920 L1345,820 L1355,710 L1362,645 L1370,680 L1380,740 L1390,750 L1400,740 L1410,760 L1420,840 L1430,905 L1445,940 L1458,935 L1465,970 L1470,1080 L1476,1240"/>
<path stroke="#1515ff" d="M167,1190 L400,1185 L640,1180 L670,1170 L695,1145 L715,1100 L735,1030 L755,930 L772,800 L787,640 L800,450 L810,280 L818,150 L824,90 L830,78 L836,88 L843,140 L852,260 L862,420 L874,580 L888,720 L905,840 L925,930 L950,1010 L980,1070 L1020,1130 L1060,1160 L1120,1172 L1200,1175 L1280,1175 L1320,1168 L1365,1165 L1380,1160 L1395,1140 L1410,1132 L1425,1140 L1445,1158 L1460,1155 L1472,1135 L1485,1118 L1495,1125 L1505,1142"/>
</g>
<line x1="1083.7" y1="1043.3" x2="1546.3" y2="1043.3" stroke="#000" stroke-width="2.5"/>
<g stroke="#000" stroke-width="2">
 <line x1="1083.7" y1="1042" x2="1083.7" y2="1049"/><line x1="1160.8" y1="1042" x2="1160.8" y2="1049"/><line x1="1237.9" y1="1042" x2="1237.9" y2="1049"/><line x1="1315" y1="1042" x2="1315" y2="1049"/><line x1="1392.1" y1="1042" x2="1392.1" y2="1049"/><line x1="1469.2" y1="1042" x2="1469.2" y2="1049"/><line x1="1546.3" y1="1042" x2="1546.3" y2="1049"/>
</g>
<g font-size="19" text-anchor="middle">
 <text x="1083.7" y="1071.5">10</text><text x="1160.8" y="1071.5">12</text><text x="1237.9" y="1071.5">14</text><text x="1315" y="1071.5">16</text><text x="1392.1" y="1071.5">18</text><text x="1469.2" y="1071.5">20</text><text x="1546.3" y="1071.5">22</text>
</g>
<text x="1314.7" y="1101" font-size="19.5" text-anchor="middle">Retention time (min)</text>
<line x1="1076.1" y1="712.9" x2="1116.6" y2="712.9" stroke="#1515ff" stroke-width="2.4"/>
<line x1="1076.1" y1="735.3" x2="1116.6" y2="735.3" stroke="#ff8a10" stroke-width="2.4"/>
<line x1="1076.1" y1="757.1" x2="1116.6" y2="757.1" stroke="#12857f" stroke-width="2.4"/>
<line x1="1076.1" y1="778.9" x2="1116.6" y2="778.9" stroke="#ff14ff" stroke-width="2.4"/>
<text x="1121" y="719" font-size="17" fill="#1515ff">Initial polymer</text>
<text x="1121" y="741.4" font-size="17" fill="#ff8a10">Ball-milling activation</text>
<text x="1121" y="763.2" font-size="17" fill="#12857f">Acid hydrolysis</text>
<text x="1121" y="785" font-size="17" fill="#ff14ff">Basic hydrolysis</text>
<g font-size="16.3">
<text x="1081" y="813" fill="#1515ff"><tspan font-style="italic">M</tspan><tspan font-size="10.5" dy="4">n,SEC</tspan><tspan dy="-4"> = 63.2 kg/mol</tspan></text>
<text x="1081" y="841.5" fill="#1515ff"><tspan font-style="italic">M</tspan><tspan font-size="10.5" dy="4">w</tspan><tspan dy="-4">/</tspan><tspan font-style="italic">M</tspan><tspan font-size="10.5" dy="4">n</tspan><tspan dy="-4"> = 1.27</tspan></text>
<text x="1081" y="869.7" fill="#ff8a10"><tspan font-style="italic">M</tspan><tspan font-size="10.5" dy="4">n,SEC</tspan><tspan dy="-4"> = 19.6 kg/mol</tspan></text>
<text x="1081" y="898.2" fill="#ff8a10"><tspan font-style="italic">M</tspan><tspan font-size="10.5" dy="4">w</tspan><tspan dy="-4">/</tspan><tspan font-style="italic">M</tspan><tspan font-size="10.5" dy="4">n</tspan><tspan dy="-4"> = 1.77</tspan></text>
<text x="1081" y="925.2" fill="#12857f"><tspan font-style="italic">M</tspan><tspan font-size="10.5" dy="4">n,SEC</tspan><tspan dy="-4"> = 6.1 kg/mol</tspan></text>
<text x="1081" y="953.4" fill="#12857f"><tspan font-style="italic">M</tspan><tspan font-size="10.5" dy="4">w</tspan><tspan dy="-4">/</tspan><tspan font-style="italic">M</tspan><tspan font-size="10.5" dy="4">n</tspan><tspan dy="-4"> = 4.22</tspan></text>
<text x="1081" y="979.5" fill="#ff14ff"><tspan font-style="italic">M</tspan><tspan font-size="10.5" dy="4">n,SEC</tspan><tspan dy="-4"> = 4.6 kg/mol</tspan></text>
<text x="1081" y="1008.6" fill="#ff14ff"><tspan font-style="italic">M</tspan><tspan font-size="10.5" dy="4">w</tspan><tspan dy="-4">/</tspan><tspan font-style="italic">M</tspan><tspan font-size="10.5" dy="4">n</tspan><tspan dy="-4"> = 3.53</tspan></text>
</g>
</svg>
</body></html>
